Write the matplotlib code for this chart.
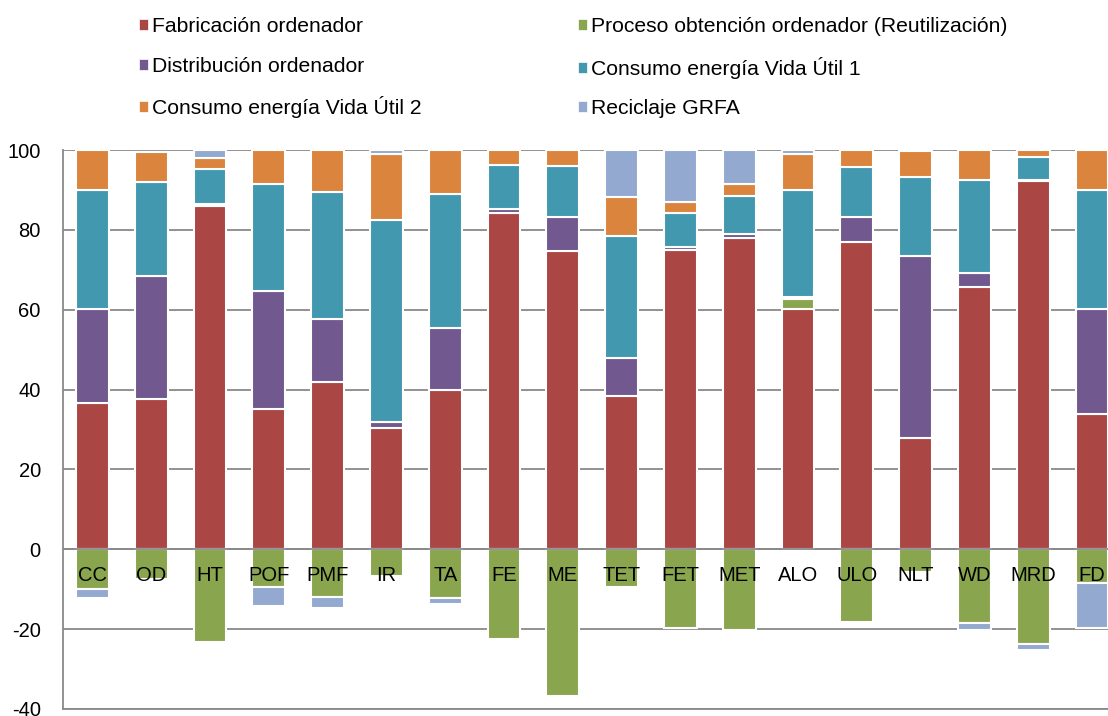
import numpy as np
import matplotlib.pyplot as plt
from matplotlib.patches import Patch

plt.rcParams['font.family'] = ['Liberation Sans', 'DejaVu Sans']
plt.rcParams['axes.unicode_minus'] = False

# Per-computer contributions (%) by life-cycle stage
categorias = ['CC', 'OD', 'HT', 'POF', 'PMF', 'IR', 'TA', 'FE', 'ME',
              'TET', 'FET', 'MET', 'ALO', 'ULO', 'NLT', 'WD', 'MRD', 'FD']

fabricacion = [36.7, 37.7, 86.0, 35.2, 42.0, 30.3, 39.8, 84.2, 74.7,
               38.4, 74.9, 77.9, 60.1, 77.0, 27.9, 65.7, 92.3, 33.8]
proceso = [-10.0, -7.5, -23.2, -9.5, -12.0, -6.6, -12.2, -22.5, -36.8,
           -9.4, -19.8, -20.1, 2.5, -18.2, -5.6, -18.5, -23.8, -8.5]
distribucion = [23.5, 30.8, 0.6, 29.5, 15.7, 1.7, 15.7, 0.9, 8.6,
                9.6, 0.8, 1.1, 0.7, 6.3, 45.5, 3.6, 0.2, 26.4]
consumo1 = [29.9, 23.4, 8.6, 26.7, 31.9, 50.5, 33.6, 11.1, 12.6,
            30.5, 8.5, 9.6, 26.8, 12.5, 19.9, 23.2, 5.8, 29.9]
consumo2 = [9.9, 7.5, 2.9, 8.6, 10.4, 16.6, 10.9, 3.7, 4.1,
            9.8, 2.7, 2.9, 8.8, 4.2, 6.4, 7.5, 1.7, 9.9]
reciclaje = [-2.3, 0, 1.9, -4.6, -2.6, 0.8, -1.6, 0, 0,
             11.7, 13.0, 8.4, 1.0, 0, 0, -1.6, -1.5, -11.2]

series = [
    ('Fabricación ordenador', fabricacion, '#AA4643'),
    ('Proceso obtención ordenador (Reutilización)', proceso, '#89A54E'),
    ('Distribución ordenador', distribucion, '#71588F'),
    ('Consumo energía Vida Útil 1', consumo1, '#4198AF'),
    ('Consumo energía Vida Útil 2', consumo2, '#DB843D'),
    ('Reciclaje GRFA', reciclaje, '#93A9CF'),
]

W, H = 1108, 716
fig = plt.figure(figsize=(W / 100, H / 100), dpi=100)
ax = fig.add_axes([63 / W, 7 / H, 1058.4 / W, 559 / H])

x = np.arange(len(categorias))
pos = np.zeros(len(categorias))
neg = np.zeros(len(categorias))
for nombre, vals, color in series:
    v = np.array(vals, dtype=float)
    bottom = np.where(v >= 0, pos, neg)
    bars = ax.bar(x, v, width=0.56, bottom=bottom, color=color,
                  edgecolor='white', linewidth=1.5, zorder=2)
    for b, val in zip(bars, v):
        if val == 0:
            b.set_visible(False)
    pos += np.where(v > 0, v, 0)
    neg += np.where(v < 0, v, 0)

# category names sit inside the plot, just under the zero line
for i, c in enumerate(categorias):
    ax.text(i, -6.6, c, ha='center', va='center', fontsize=14.5, zorder=5)

ax.axhline(0, color='#898989', lw=1.3, zorder=4)
ax.set_xlim(-0.5, len(categorias) - 0.5)
ax.set_ylim(-40, 100)
ax.set_yticks(range(-40, 101, 20))
ax.set_xticks([])
ax.yaxis.grid(True, color='#898989', lw=1.3, zorder=0)
ax.set_axisbelow(True)
ax.tick_params(axis='y', length=0, pad=16, labelsize=14.5)
for s in ['top', 'right']:
    ax.spines[s].set_visible(False)
for s in ['left', 'bottom']:
    ax.spines[s].set_color('#898989')
    ax.spines[s].set_linewidth(1.3)

# legend reads row by row: reorder so the two columns fill correctly
orden = [0, 2, 4, 1, 3, 5]
handles = [Patch(facecolor=series[k][2], edgecolor='white', linewidth=0.5) for k in orden]
labels = [series[k][0] for k in orden]
fig.legend(handles, labels, ncol=2, loc='upper left',
           bbox_to_anchor=(139 / W, 1 - 17 / H), frameon=False,
           fontsize=15.2, handlelength=0.42, handleheight=0.42,
           handletextpad=0.2, columnspacing=7.4, labelspacing=0.98,
           borderpad=0, borderaxespad=0)

fig.savefig('out.png', dpi=100)
